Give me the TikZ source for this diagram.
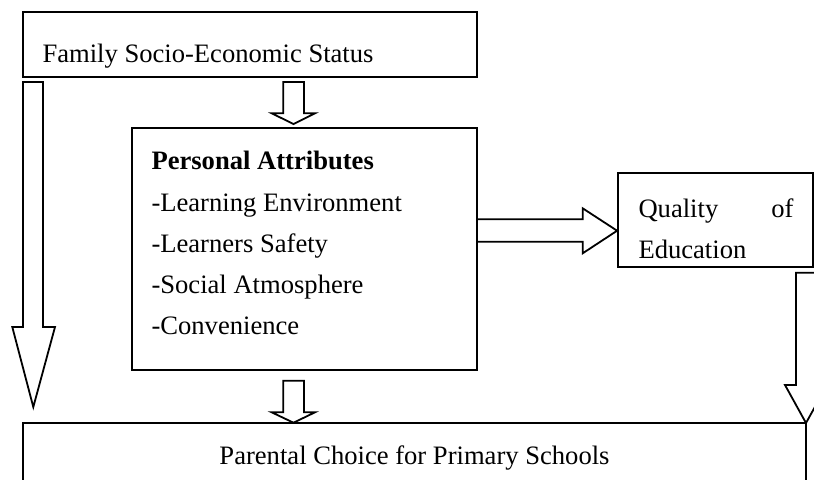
\documentclass[tikz,border=0pt]{standalone}
\usepackage{fontspec}
\setmainfont{Liberation Serif}
\usetikzlibrary{positioning}

\tikzset{
  box/.style={draw, line width=0.9pt, inner sep=0pt},
  txt/.style={inner sep=0pt, font=\fontsize{13.3}{20.6}\selectfont},
  blockarr/.style={draw, line width=0.9pt, line join=miter}
}

\begin{document}
\begin{tikzpicture}[x=0.5pt, y=-0.5pt]
  \useasboundingbox (0,0) rectangle (814,479);

  % boxes
  \node[box, minimum width=227pt, minimum height=32.5pt] (fses) at (250,44.5) {};
  \node[box, minimum width=172.5pt, minimum height=121pt] (pa) at (304.5,249) {};
  \node[box, minimum width=97.5pt, minimum height=47pt] (qe) at (715.5,220) {};
  \node[box, minimum width=391.5pt, minimum height=60pt] (pcps) at (414.5,483) {};

  % texts
  \node[txt, anchor=base west] (fsestext) at ([shift={(20,18.2)}]fses.west)
    {Family Socio-Economic Status};
  \node[txt, anchor=north west, align=left] (patext) at ([shift={(20,24)}]pa.north west)
    {\textbf{Personal Attributes}\\-Learning Environment\\-Learners Safety\\-Social Atmosphere\\-Convenience};
  \node[txt, anchor=north west, text width=77.5pt, align=left] (qetext) at ([shift={(21,26.5)}]qe.north west)
    {Quality\hfill of\\Education};
  \node[txt, anchor=base] (pcpstext) at ([shift={(0,42)}]pcps.north)
    {Parental Choice for Primary Schools};

  % block arrows
  \draw[blockarr] (23,82) -- (43,82) -- (43,327) -- (55,327) -- (33.3,407)
    -- (12.3,327) -- (23,327) -- cycle;
  \draw[blockarr] (283.3,82) -- (304,82) -- (304,113.3) -- (315,113.3) -- (293.5,124)
    -- (271.7,113.3) -- (283.3,113.3) -- cycle;
  \draw[blockarr] (283.3,380.7) -- (304,380.7) -- (304,412.3) -- (315,412.3) -- (293.5,422.7)
    -- (271.7,412.3) -- (283.3,412.3) -- cycle;
  \draw[blockarr] (pa.east |- 0,219.3) -- (582.7,219.3) -- (582.7,208.3) -- (qe.west |- 0,230.7)
    -- (582.7,253.3) -- (582.7,241.7) -- (pa.east |- 0,241.7);
  \draw[blockarr] (796,272.7) -- (816,272.7) -- (816,385) -- (827,385) -- (806,423)
    -- (785,385) -- (796,385) -- cycle;
\end{tikzpicture}
\end{document}
